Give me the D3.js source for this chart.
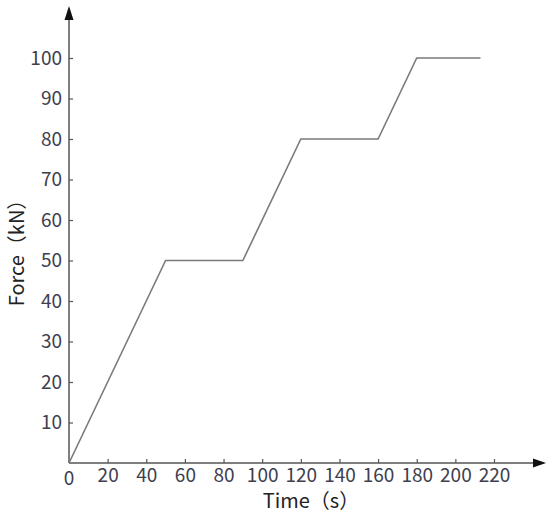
<!DOCTYPE html>
<html><head><meta charset="utf-8">
<script src="https://cdn.jsdelivr.net/npm/d3@7"></script>
<style>
html,body{margin:0;padding:0;background:#fff;}
svg{display:block;}
</style></head>
<body>
<script>
// Data
const times  = [0, 50, 90, 120, 160, 180, 213];
const forces = [0, 50, 50, 80, 80, 100, 100];
const xTicks = [20, 40, 60, 80, 100, 120, 140, 160, 180, 200, 220];
const yTicks = [10, 20, 30, 40, 50, 60, 70, 80, 90, 100];
const xTitle = "Time（s）";
const yTitle = "Force（kN）";

const W = 550, H = 518;
const svg = d3.select("body").append("svg").attr("width", W).attr("height", H);

const x = d3.scaleLinear().domain([0, 220]).range([69, 494]);
const y = d3.scaleLinear().domain([0, 100]).range([463, 58]);

const axisColor = "#555";
const textColor = "#3e3e4e";
const fontNum = "'Noto Sans CJK SC', 'Noto Sans', sans-serif";
const fontLbl = "'Noto Sans CJK SC', 'Noto Sans', sans-serif";
const numSize = 19;

// X axis
const gx = svg.append("g").attr("transform", `translate(0,${y(0)})`);
gx.call(d3.axisBottom(x).tickValues(xTicks).tickSizeInner(-4).tickSizeOuter(0).tickPadding(5));
gx.select(".domain").remove();
gx.append("line").attr("x1", x(0)).attr("x2", 536).attr("y1", 0).attr("y2", 0)
  .attr("stroke", axisColor).attr("stroke-width", 1.5);
gx.append("path").attr("d", "M533,-4.5L546,0L533,4.5Z").attr("fill", "#111");
gx.selectAll(".tick line").attr("stroke", axisColor).attr("stroke-width", 1.2);
gx.selectAll(".tick text").attr("fill", textColor).attr("font-size", numSize).attr("font-family", fontNum);
// origin label
gx.append("text").attr("x", x(0)).attr("y", 9).attr("dy", "0.71em").attr("text-anchor", "middle")
  .attr("fill", textColor).attr("font-size", numSize).attr("font-family", fontNum).text("0");

// Y axis
const gy = svg.append("g").attr("transform", `translate(${x(0)},0)`);
gy.call(d3.axisLeft(y).tickValues(yTicks).tickSizeInner(-4).tickSizeOuter(0).tickPadding(7));
gy.select(".domain").remove();
gy.append("line").attr("x1", 0).attr("x2", 0).attr("y1", y(0)).attr("y2", 18)
  .attr("stroke", axisColor).attr("stroke-width", 1.5);
gy.append("path").attr("d", "M-4.5,20L0,6L4.5,20Z").attr("fill", "#111");
gy.selectAll(".tick line").attr("stroke", axisColor).attr("stroke-width", 1.2);
gy.selectAll(".tick text").attr("fill", textColor).attr("font-size", numSize).attr("font-family", fontNum);

// Line
const pts = times.map((t, i) => [t, forces[i]]);
svg.append("path").datum(pts)
  .attr("d", d3.line().x(d => x(d[0])).y(d => y(d[1])))
  .attr("fill", "none").attr("stroke", "#7a7a7a").attr("stroke-width", 1.6);

// Titles
svg.append("text").attr("x", 311).attr("y", 508).attr("text-anchor", "middle")
  .attr("fill", "#222").attr("font-size", 20).attr("font-family", fontLbl).text(xTitle);
svg.append("text").attr("transform", "translate(24,248) rotate(-90)").attr("text-anchor", "middle")
  .attr("fill", "#222").attr("font-size", 20).attr("font-family", fontLbl).text(yTitle);
</script>
</body></html>
